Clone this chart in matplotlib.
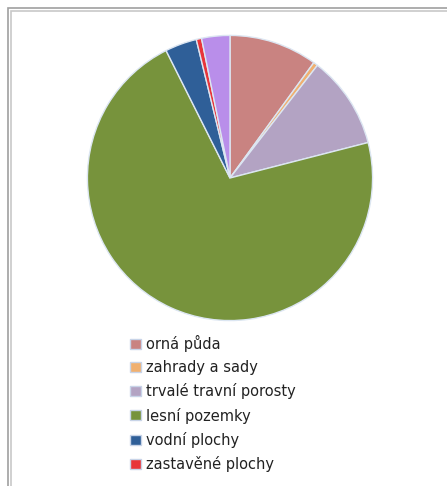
import matplotlib.pyplot as plt
from matplotlib.patches import Rectangle, Patch

labels = ['orná půda', 'zahrady a sady', 'trvalé travní porosty', 'lesní pozemky',
          'vodní plochy', 'zastavěné plochy', 'ostatní plochy']
values = [10.0, 0.5, 10.5, 71.6, 3.6, 0.6, 3.2]
colors = ['#C98381', '#F0B070', '#B3A3C3', '#77933C', '#2F5F98', '#E8353A', '#B98EEA']

W, H = 447, 486
fig = plt.figure(figsize=(W / 100, H / 100), dpi=100)

# gray double frame around the chart area
for off, col in [(8, '#A0A0A0'), (11, '#C8C8C8')]:
    fig.patches.append(Rectangle((off / W, -0.1), 1.2, 1.1 - off / H,
                                 transform=fig.transFigure, fill=False,
                                 edgecolor=col, linewidth=1.2))

ax = fig.add_axes([86 / W, (H - 322) / H, 288 / W, 288 / H])
ax.pie(values, colors=colors, startangle=90, counterclock=False, radius=1,
       wedgeprops=dict(edgecolor='#DCE6F2', linewidth=1))
ax.set_xlim(-1.01, 1.01)
ax.set_ylim(-1.01, 1.01)
ax.set_aspect('equal')
ax.axis('off')

handles = [Patch(facecolor=c, edgecolor='#C8D4E8') for c in colors[:6]]
fig.legend(handles, labels[:6], loc='upper left', bbox_to_anchor=(130 / W, 1 - 335 / H),
           frameon=False, fontsize=10.5, handlelength=0.72, handleheight=0.67,
           handletextpad=0.35, labelspacing=0.56, borderaxespad=0, borderpad=0,
           labelcolor='#222222')

fig.savefig('out.png', dpi=100)
